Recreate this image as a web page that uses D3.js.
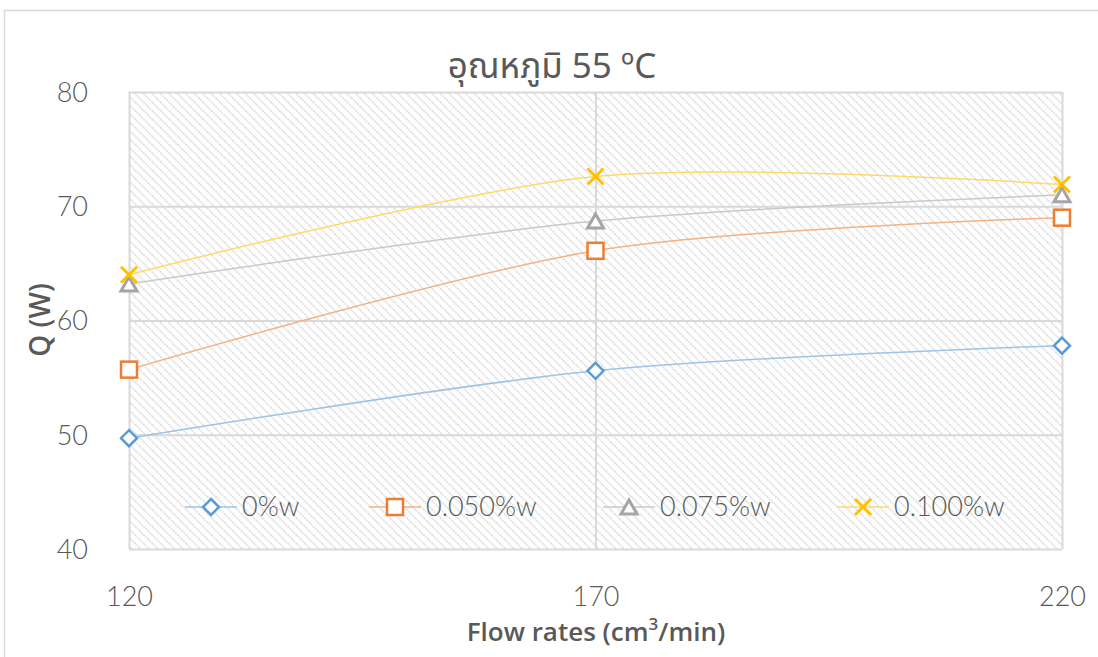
<!DOCTYPE html>
<html>
<head>
<meta charset="utf-8">
<script src="https://cdn.jsdelivr.net/npm/d3@7"></script>
<style>
  html, body { margin: 0; padding: 0; background: #fff; }
  svg { display: block; }
</style>
</head>
<body>
<svg id="chart" width="1098" height="657"></svg>
<script>
// Flow rates (cm³/min) on the x axis
const flowRates = [120, 170, 220];
// Heat transfer Q (W) for each concentration
const q0 = [49.7, 55.6, 57.8];
const q050 = [55.7, 66.1, 69.0];
const q075 = [63.2, 68.7, 71.0];
const q100 = [64.0, 72.6, 71.9];
const seriesNames = ["0%w", "0.050%w", "0.075%w", "0.100%w"];
const yTicks = [40, 50, 60, 70, 80];

const series = [
  { name: seriesNames[0], values: q0, color: "#5b9bd5", line: "#9dc3e6", marker: "diamond" },
  { name: seriesNames[1], values: q050, color: "#ed7d31", line: "#f4b183", marker: "square" },
  { name: seriesNames[2], values: q075, color: "#a5a5a5", line: "#c9c9c9", marker: "triangle" },
  { name: seriesNames[3], values: q100, color: "#ffc000", line: "#ffd966", marker: "cross" }
];

const svg = d3.select("#chart");
const font = "Lato, 'Open Sans', sans-serif";

// outer chart frame
svg.append("rect").attr("x", 4.5).attr("y", 10.5).attr("width", 1110).attr("height", 700)
  .attr("fill", "#fff").attr("stroke", "#d9d9d9").attr("stroke-width", 1.5);

const plot = { left: 129, right: 1062, top: 92, bottom: 549 };
const x = d3.scaleLinear().domain([120, 220]).range([plot.left, plot.right]);
const y = d3.scaleLinear().domain([40, 80]).range([plot.bottom, plot.top]);

// diagonal hatch fill of the plot area
const defs = svg.append("defs");
const pat = defs.append("pattern").attr("id", "hatch").attr("patternUnits", "userSpaceOnUse")
  .attr("width", 6).attr("height", 6).attr("patternTransform", "rotate(45)");
pat.append("rect").attr("width", 6).attr("height", 6).attr("fill", "#fff");
pat.append("line").attr("x1", 0).attr("y1", 0).attr("x2", 6).attr("y2", 0)
  .attr("stroke", "#d6d6d6").attr("stroke-width", 2.6).attr("stroke-dasharray", "1.6,0.8");

svg.append("rect").attr("x", plot.left).attr("y", plot.top)
  .attr("width", plot.right - plot.left).attr("height", plot.bottom - plot.top)
  .attr("fill", "url(#hatch)");

// gridlines
const gy = svg.append("g").attr("transform", `translate(${plot.left},0)`)
  .call(d3.axisLeft(y).tickValues(yTicks).tickSize(-(plot.right - plot.left)).tickFormat(""));
gy.select(".domain").remove();
gy.selectAll("line").attr("stroke", "#d9d9d9").attr("stroke-width", 2);

const gx = svg.append("g").attr("transform", `translate(0,${plot.bottom})`)
  .call(d3.axisBottom(x).tickValues(flowRates).tickSize(-(plot.bottom - plot.top)).tickFormat(""));
gx.select(".domain").remove();
gx.selectAll("line").attr("stroke", "#d9d9d9").attr("stroke-width", 2);

// tick labels
const yl = svg.append("g").attr("transform", `translate(${plot.left},0)`)
  .call(d3.axisLeft(y).tickValues(yTicks).tickSize(0).tickPadding(41));
yl.select(".domain").remove();
yl.selectAll("text").attr("font-family", font).attr("font-weight", 300)
  .attr("font-size", 27).attr("fill", "#595959").attr("dy", "0.35em");

const xl = svg.append("g").attr("transform", `translate(0,${plot.bottom})`)
  .call(d3.axisBottom(x).tickValues(flowRates).tickSize(0).tickPadding(38));
xl.select(".domain").remove();
xl.selectAll("text").attr("font-family", font).attr("font-weight", 300)
  .attr("font-size", 27).attr("fill", "#595959");

// lines
const line = d3.line().curve(d3.curveCardinal.tension(0.1))
  .x((d, i) => x(flowRates[i])).y(d => y(d));

series.forEach(s => {
  svg.append("path").datum(s.values).attr("d", line)
    .attr("fill", "none").attr("stroke", s.line).attr("stroke-width", 1.5);
});

function drawMarker(g, type, color) {
  if (type === "diamond") {
    g.append("path").attr("d", "M0,-8L8,0L0,8L-8,0Z")
      .attr("fill", "#fff").attr("stroke", color).attr("stroke-width", 2.5);
  } else if (type === "square") {
    g.append("rect").attr("x", -8).attr("y", -8).attr("width", 16).attr("height", 16)
      .attr("fill", "#fff").attr("stroke", color).attr("stroke-width", 2.5);
  } else if (type === "triangle") {
    g.append("path").attr("d", "M0,-7L8,7L-8,7Z")
      .attr("fill", "#fff").attr("stroke", color).attr("stroke-width", 3);
  } else {
    g.append("path").attr("d", "M-8,-8L8,8M8,-8L-8,8")
      .attr("fill", "none").attr("stroke", color).attr("stroke-width", 3);
  }
}

series.forEach(s => {
  s.values.forEach((v, i) => {
    const g = svg.append("g").attr("transform", `translate(${x(flowRates[i])},${y(v)})`);
    drawMarker(g, s.marker, s.color);
  });
});

// legend inside plot
const legendX = [185, 369, 603, 837];
const legendY = 507;
series.forEach((s, i) => {
  const g = svg.append("g").attr("transform", `translate(${legendX[i]},${legendY})`);
  g.append("line").attr("x1", 0).attr("x2", 52).attr("y1", 0).attr("y2", 0)
    .attr("stroke", s.line).attr("stroke-width", 1.5);
  drawMarker(g.append("g").attr("transform", "translate(26,0)"), s.marker, s.color);
  g.append("text").attr("x", 57).attr("y", 0).attr("dy", "0.35em")
    .attr("font-family", font).attr("font-weight", 300).attr("font-size", 27)
    .attr("fill", "#595959").text(s.name);
});

// title and axis titles
svg.append("text").attr("x", 552).attr("y", 78).attr("text-anchor", "middle")
  .attr("font-family", "'Noto Sans Thai', 'Noto Sans', Tahoma, sans-serif").attr("font-size", 35)
  .attr("fill", "#595959").text("อุณหภูมิ 55 ºC");

const xt = svg.append("text").attr("x", 596).attr("y", 641).attr("text-anchor", "middle")
  .attr("font-family", "'Open Sans', sans-serif").attr("font-weight", 600).attr("font-size", 26)
  .attr("fill", "#595959");
xt.append("tspan").text("Flow rates (cm");
xt.append("tspan").attr("dy", -11).attr("font-size", 17).text("3");
xt.append("tspan").attr("dy", 11).text("/min)");

svg.append("text").attr("transform", "translate(50,320) rotate(-90)").attr("text-anchor", "middle")
  .attr("font-family", "'Open Sans', sans-serif").attr("font-weight", 600).attr("font-size", 28)
  .attr("fill", "#595959").text("Q (W)");
</script>
</body>
</html>
